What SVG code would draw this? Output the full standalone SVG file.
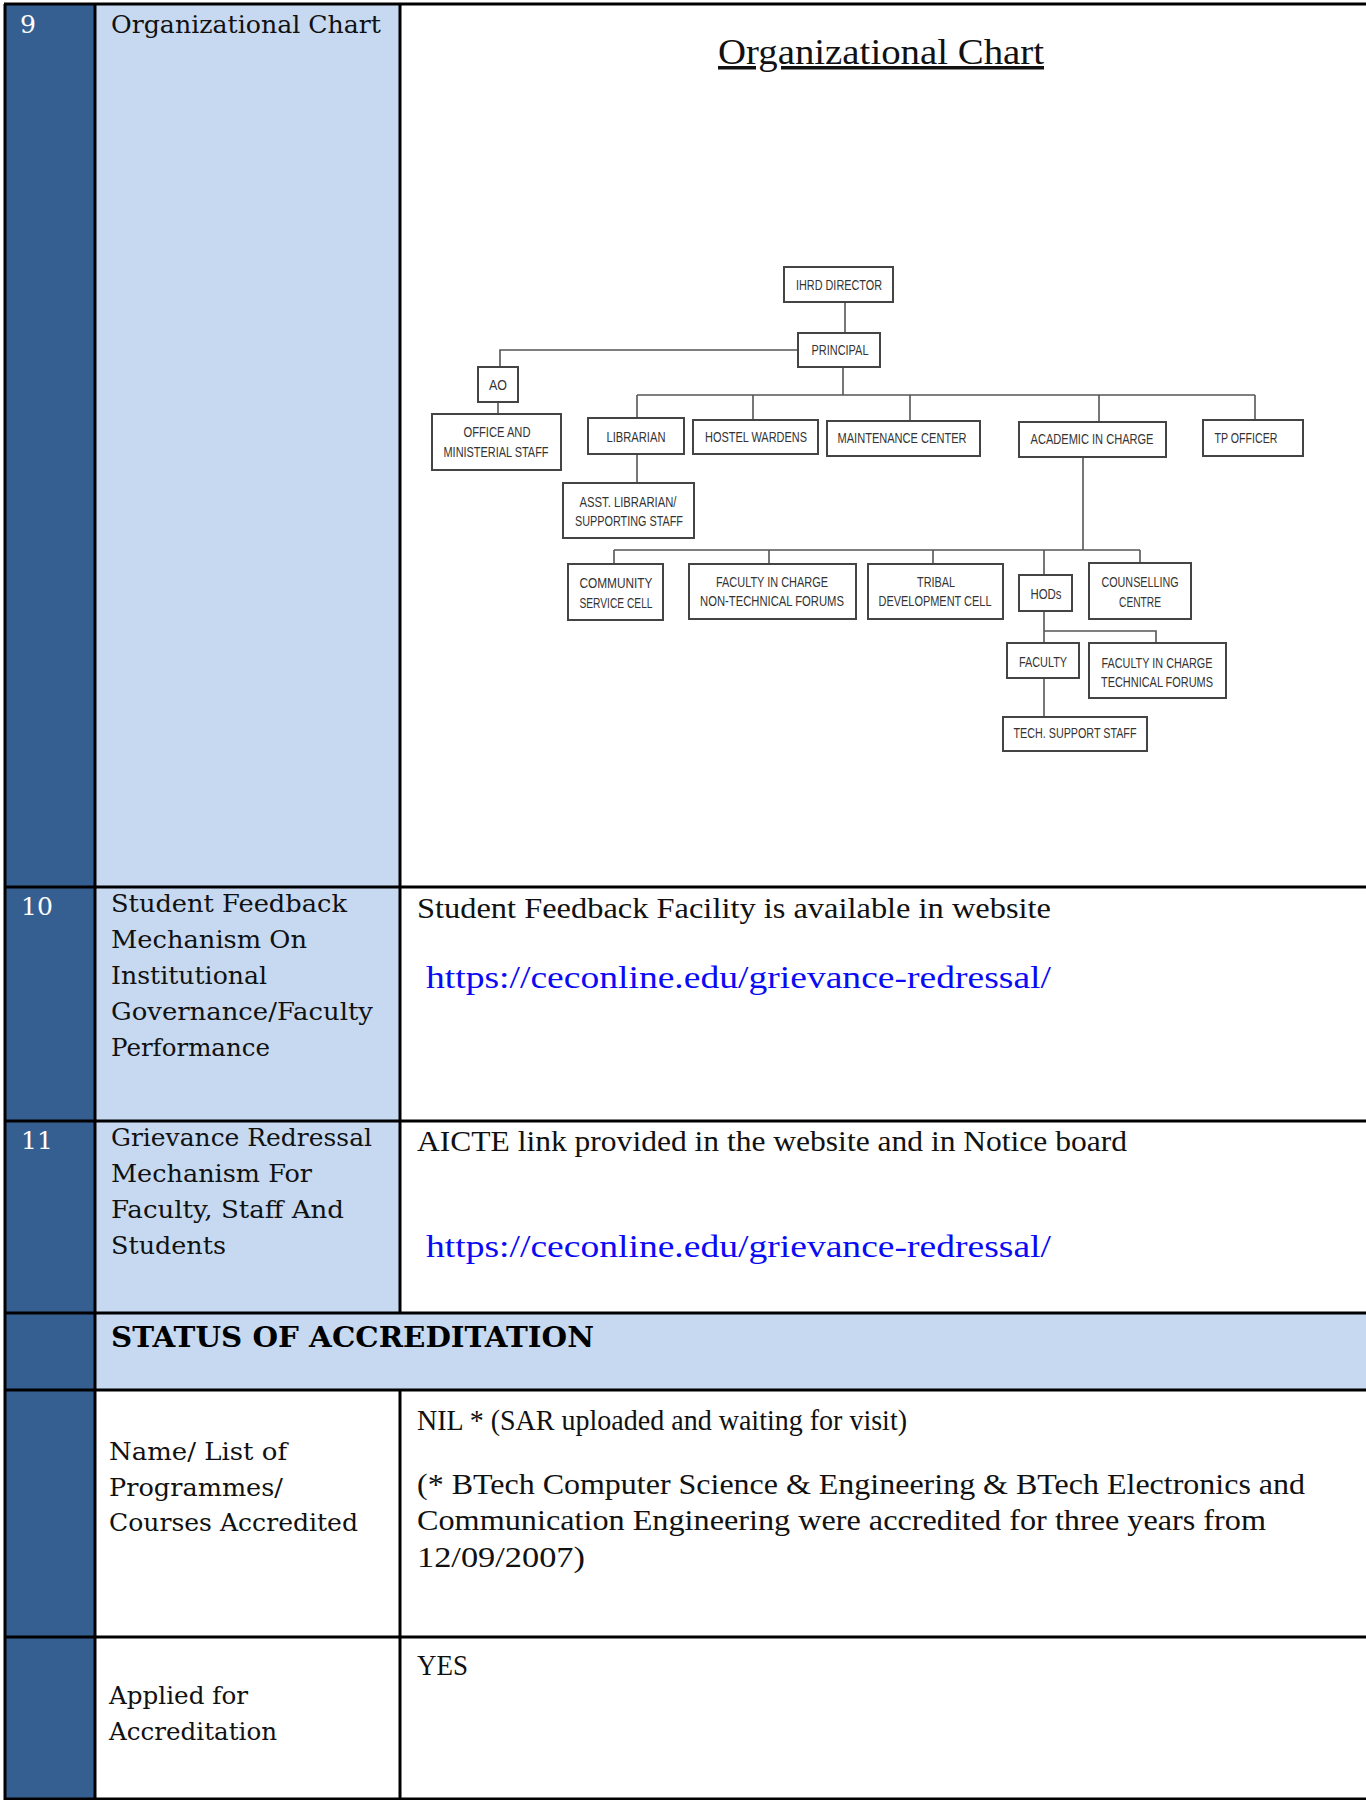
<svg xmlns="http://www.w3.org/2000/svg" width="1366" height="1800" viewBox="0 0 1366 1800">
<style>
.dark{fill:#365F91}
.light{fill:#C6D9F1}
.grid{stroke:#000;stroke-width:3;fill:none}
.num{font-family:"DejaVu Serif",serif;font-size:25px;fill:#fff}
.lab{font-family:"DejaVu Serif",serif;font-size:25px;fill:#111}
.head{font-family:"DejaVu Serif",serif;font-size:27px;font-weight:bold;fill:#000}
.val{font-family:"Liberation Serif",serif;font-size:30px;fill:#111}
.url{font-family:"Liberation Serif",serif;font-size:31px;fill:#0A0AF5}
.title{font-family:"Liberation Serif",serif;font-size:35px;fill:#111;text-decoration:underline}
.box{fill:#fff;stroke:#444;stroke-width:2}
.bt{font-family:"Liberation Sans",Arial,sans-serif;font-size:14px;fill:#333;text-anchor:middle}
.conn{stroke:#555;stroke-width:1.6;fill:none}
</style>
<rect x="0" y="0" width="1366" height="1800" fill="#fff"/>
<g id="table">
<rect class="dark" x="5" y="4" width="90" height="1796"/>
<rect class="light" x="95" y="4" width="305" height="1309"/>
<rect class="light" x="95" y="1313" width="1271" height="77"/>
<path class="grid" d="M4,4 H1366 M5,4 V1800 M95,4 V1800 M400,4 V1313 M400,1390 V1800 M5,887 H1366 M5,1121 H1366 M5,1313 H1366 M5,1390 H1366 M5,1637 H1366 M5,1799 H1366"/>
</g>
<g id="row9">
<text class="num" x="20" y="33">9</text>
<text class="lab" x="111" y="33" textLength="270" lengthAdjust="spacingAndGlyphs">Organizational Chart</text>
<text class="title" x="718" y="64" textLength="326" lengthAdjust="spacingAndGlyphs">Organizational Chart</text>
</g>
<g id="row10">
<text class="num" x="21" y="915">10</text>
<text class="lab" x="111" y="912" textLength="236" lengthAdjust="spacingAndGlyphs">Student Feedback</text>
<text class="lab" x="111" y="948" textLength="196" lengthAdjust="spacingAndGlyphs">Mechanism On</text>
<text class="lab" x="111" y="984" textLength="156" lengthAdjust="spacingAndGlyphs">Institutional</text>
<text class="lab" x="111" y="1020" textLength="262" lengthAdjust="spacingAndGlyphs">Governance/Faculty</text>
<text class="lab" x="111" y="1056" textLength="159" lengthAdjust="spacingAndGlyphs">Performance</text>
<text class="val" x="417" y="918" textLength="634" lengthAdjust="spacingAndGlyphs">Student Feedback  Facility is available in website</text>
<text class="url" x="426" y="988" textLength="625" lengthAdjust="spacingAndGlyphs">https://ceconline.edu/grievance-redressal/</text>
</g>
<g id="row11">
<text class="num" x="21" y="1149">11</text>
<text class="lab" x="111" y="1146" textLength="261" lengthAdjust="spacingAndGlyphs">Grievance Redressal</text>
<text class="lab" x="111" y="1182" textLength="201" lengthAdjust="spacingAndGlyphs">Mechanism For</text>
<text class="lab" x="111" y="1218" textLength="233" lengthAdjust="spacingAndGlyphs">Faculty, Staff And</text>
<text class="lab" x="111" y="1254" textLength="115" lengthAdjust="spacingAndGlyphs">Students</text>
<text class="val" x="417" y="1151" textLength="710" lengthAdjust="spacingAndGlyphs">AICTE link provided in the website and in Notice board</text>
<text class="url" x="426" y="1257" textLength="625" lengthAdjust="spacingAndGlyphs">https://ceconline.edu/grievance-redressal/</text>
</g>
<g id="status">
<text class="head" x="111" y="1347" textLength="483" lengthAdjust="spacingAndGlyphs">STATUS OF ACCREDITATION</text>
</g>
<g id="row-accredited">
<text class="lab" x="109" y="1460" textLength="178" lengthAdjust="spacingAndGlyphs">Name/ List of</text>
<text class="lab" x="109" y="1496" textLength="174" lengthAdjust="spacingAndGlyphs">Programmes/</text>
<text class="lab" x="109" y="1531" textLength="249" lengthAdjust="spacingAndGlyphs">Courses Accredited</text>
<text class="val" x="417" y="1430" textLength="490" lengthAdjust="spacingAndGlyphs">NIL * (SAR uploaded and waiting for visit)</text>
<text class="val" x="417" y="1494" textLength="888" lengthAdjust="spacingAndGlyphs">(*  BTech Computer Science &amp; Engineering &amp;  BTech Electronics and</text>
<text class="val" x="417" y="1530" textLength="849" lengthAdjust="spacingAndGlyphs">Communication Engineering were accredited for three years from</text>
<text class="val" x="417" y="1567" textLength="168" lengthAdjust="spacingAndGlyphs">12/09/2007)</text>
</g>
<g id="row-applied">
<text class="lab" x="109" y="1704" textLength="139" lengthAdjust="spacingAndGlyphs">Applied for</text>
<text class="lab" x="109" y="1740" textLength="168" lengthAdjust="spacingAndGlyphs">Accreditation</text>
<text class="val" x="417" y="1675" textLength="51" lengthAdjust="spacingAndGlyphs">YES</text>
</g>
<g id="connectors">
<path class="conn" d="M845,302 V333"/>
<path class="conn" d="M798,350 H500 V367"/>
<path class="conn" d="M498,402 V414"/>
<path class="conn" d="M843,367 V395 M637,395 H1255"/>
<path class="conn" d="M637,395 V418 M753,395 V420 M910,395 V421 M1099,395 V422 M1255,395 V420"/>
<path class="conn" d="M637,454 V483"/>
<path class="conn" d="M1083,457 V550 M614,550 H1140"/>
<path class="conn" d="M614,550 V564 M769,550 V564 M933,550 V564 M1044,550 V575 M1140,550 V563"/>
<path class="conn" d="M1044,611 V643 M1044,631 H1156 V643"/>
<path class="conn" d="M1044,678 V717"/>
</g>
<g id="n-ihrd"><rect class="box" x="784" y="267" width="109" height="35"/><text class="bt" x="839" y="290" textLength="86" lengthAdjust="spacingAndGlyphs">IHRD DIRECTOR</text></g>
<g id="n-principal"><rect class="box" x="798" y="333" width="82" height="34"/><text class="bt" x="840" y="355" textLength="57" lengthAdjust="spacingAndGlyphs">PRINCIPAL</text></g>
<g id="n-ao"><rect class="box" x="478" y="367" width="40" height="35"/><text class="bt" x="498" y="390" textLength="18" lengthAdjust="spacingAndGlyphs">AO</text></g>
<g id="n-office"><rect class="box" x="432" y="414" width="129" height="56"/><text class="bt" x="497" y="437" textLength="67" lengthAdjust="spacingAndGlyphs">OFFICE AND</text><text class="bt" x="496" y="457" textLength="105" lengthAdjust="spacingAndGlyphs">MINISTERIAL STAFF</text></g>
<g id="n-librarian"><rect class="box" x="588" y="418" width="96" height="36"/><text class="bt" x="636" y="442" textLength="59" lengthAdjust="spacingAndGlyphs">LIBRARIAN</text></g>
<g id="n-hostel"><rect class="box" x="693" y="420" width="125" height="34"/><text class="bt" x="756" y="442" textLength="102" lengthAdjust="spacingAndGlyphs">HOSTEL WARDENS</text></g>
<g id="n-maintenance"><rect class="box" x="827" y="421" width="153" height="35"/><text class="bt" x="902" y="443" textLength="129" lengthAdjust="spacingAndGlyphs">MAINTENANCE CENTER</text></g>
<g id="n-academic"><rect class="box" x="1019" y="422" width="147" height="35"/><text class="bt" x="1092" y="444" textLength="123" lengthAdjust="spacingAndGlyphs">ACADEMIC IN CHARGE</text></g>
<g id="n-tp"><rect class="box" x="1203" y="420" width="100" height="36"/><text class="bt" x="1246" y="443" textLength="63" lengthAdjust="spacingAndGlyphs">TP OFFICER</text></g>
<g id="n-asst"><rect class="box" x="563" y="483" width="131" height="55"/><text class="bt" x="628" y="507" textLength="97" lengthAdjust="spacingAndGlyphs">ASST. LIBRARIAN/</text><text class="bt" x="629" y="526" textLength="108" lengthAdjust="spacingAndGlyphs">SUPPORTING STAFF</text></g>
<g id="n-community"><rect class="box" x="568" y="564" width="95" height="56"/><text class="bt" x="616" y="588" textLength="73" lengthAdjust="spacingAndGlyphs">COMMUNITY</text><text class="bt" x="616" y="608" textLength="73" lengthAdjust="spacingAndGlyphs">SERVICE CELL</text></g>
<g id="n-nontech"><rect class="box" x="689" y="564" width="167" height="55"/><text class="bt" x="772" y="587" textLength="112" lengthAdjust="spacingAndGlyphs">FACULTY IN CHARGE</text><text class="bt" x="772" y="606" textLength="144" lengthAdjust="spacingAndGlyphs">NON-TECHNICAL FORUMS</text></g>
<g id="n-tribal"><rect class="box" x="868" y="564" width="135" height="55"/><text class="bt" x="936" y="587" textLength="38" lengthAdjust="spacingAndGlyphs">TRIBAL</text><text class="bt" x="935" y="606" textLength="113" lengthAdjust="spacingAndGlyphs">DEVELOPMENT CELL</text></g>
<g id="n-hods"><rect class="box" x="1019" y="575" width="53" height="36"/><text class="bt" x="1046" y="599" textLength="31" lengthAdjust="spacingAndGlyphs">HODs</text></g>
<g id="n-counselling"><rect class="box" x="1089" y="563" width="102" height="56"/><text class="bt" x="1140" y="587" textLength="77" lengthAdjust="spacingAndGlyphs">COUNSELLING</text><text class="bt" x="1140" y="607" textLength="42" lengthAdjust="spacingAndGlyphs">CENTRE</text></g>
<g id="n-faculty"><rect class="box" x="1007" y="643" width="72" height="35"/><text class="bt" x="1043" y="667" textLength="48" lengthAdjust="spacingAndGlyphs">FACULTY</text></g>
<g id="n-techforums"><rect class="box" x="1089" y="643" width="137" height="55"/><text class="bt" x="1157" y="668" textLength="111" lengthAdjust="spacingAndGlyphs">FACULTY IN CHARGE</text><text class="bt" x="1157" y="687" textLength="112" lengthAdjust="spacingAndGlyphs">TECHNICAL FORUMS</text></g>
<g id="n-techsupport"><rect class="box" x="1003" y="717" width="144" height="34"/><text class="bt" x="1075" y="738" textLength="123" lengthAdjust="spacingAndGlyphs">TECH. SUPPORT STAFF</text></g>
</svg>
